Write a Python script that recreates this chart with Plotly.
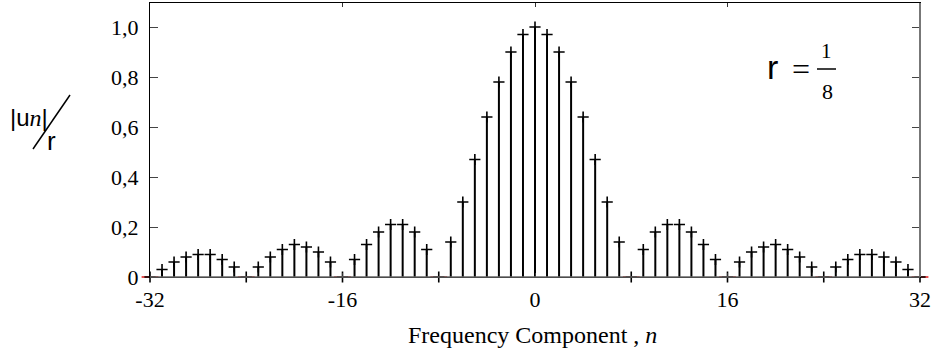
import plotly.graph_objects as go

n_vals = list(range(-32, 33))
magnitude = [0.00, 0.03, 0.06, 0.08, 0.09, 0.09, 0.07, 0.04,
             0.00, 0.04, 0.08, 0.11, 0.13, 0.12, 0.10, 0.06,
             0.00, 0.07, 0.13, 0.18, 0.21, 0.21, 0.18, 0.11,
             0.00, 0.14, 0.30, 0.47, 0.64, 0.78, 0.90, 0.97,
             1.00,
             0.97, 0.90, 0.78, 0.64, 0.47, 0.30, 0.14, 0.00,
             0.11, 0.18, 0.21, 0.21, 0.18, 0.13, 0.07, 0.00,
             0.06, 0.10, 0.12, 0.13, 0.11, 0.08, 0.04, 0.00,
             0.04, 0.07, 0.09, 0.09, 0.08, 0.06, 0.03, 0.00]
x_ticks = [-32, -16, 0, 16, 32]
x_tick_text = ["-32", "-16", "0", "16", "32"]
y_ticks = [0, 0.2, 0.4, 0.6, 0.8, 1.0]
y_tick_text = ["0", "0,2", "0,4", "0,6", "0,8", "1,0"]

SERIF = "Liberation Serif, Times New Roman, Times, serif"
SANS = "Liberation Sans, Arial, Helvetica, sans-serif"

# stems
sx, sy = [], []
for n, m in zip(n_vals, magnitude):
    sx += [n, n, None]
    sy += [0, m, None]

zx = [n for n, m in zip(n_vals, magnitude) if m == 0]
zy = [0 for n in zx]

fig = go.Figure()
fig.add_trace(go.Scatter(x=sx, y=sy, mode="lines",
                         line=dict(color="black", width=2), hoverinfo="skip",
                         showlegend=False, cliponaxis=False))
fig.add_trace(go.Scatter(x=zx, y=zy, mode="markers",
                         marker=dict(symbol="line-ew", size=12,
                                     line=dict(color="#e85050", width=2)),
                         showlegend=False, cliponaxis=False))
fig.add_trace(go.Scatter(x=n_vals, y=magnitude, mode="markers",
                         marker=dict(symbol="cross-thin", size=8,
                                     line=dict(color="black", width=1.6)),
                         showlegend=False, cliponaxis=False))

L, R, T, B = 150, 14, 3, 77
W, H = 934, 354
pw, ph = W - L - R, H - T - B


def px(xp):
    return (xp - L) / pw


def py(yp):
    return (H - B - yp) / ph


fig.update_layout(
    width=W, height=H,
    margin=dict(l=L, r=R, t=T, b=B),
    paper_bgcolor="white", plot_bgcolor="white",
    xaxis=dict(range=[-32, 32], tickvals=x_ticks, ticktext=x_tick_text,
               ticks="inside", ticklen=4, tickcolor="#333333",
               showline=True, mirror="ticks", linecolor="black", linewidth=1,
               showgrid=False, zeroline=False, ticklabelstandoff=3,
               tickfont=dict(family=SERIF, size=22, color="black")),
    yaxis=dict(range=[0, 1.096], tickvals=y_ticks, ticktext=y_tick_text,
               ticks="inside", ticklen=8, tickcolor="#444444",
               showline=True, mirror="ticks", linecolor="black", linewidth=1,
               showgrid=False, zeroline=False, ticklabelstandoff=6,
               tickfont=dict(family=SERIF, size=22, color="black")),
    shapes=[
        dict(type="line", xref="paper", yref="paper", x0=1, x1=1, y0=0, y1=1,
             line=dict(color="#777777", width=2)),
        dict(type="line", xref="paper", yref="paper", x0=0, x1=1, y0=0, y1=0,
             line=dict(color="#666666", width=1.5)),
        # slash of y label
        dict(type="line", xref="paper", yref="paper",
             x0=px(33), y0=py(149), x1=px(70), y1=py(95),
             line=dict(color="black", width=1.5)),
        # fraction bar
        dict(type="line", xref="paper", yref="paper",
             x0=px(817), y0=py(69), x1=px(836), y1=py(69),
             line=dict(color="black", width=1.5)),
    ],
    annotations=[
        dict(xref="paper", yref="paper", x=px(532), y=py(335),
             text="Frequency Component , <i>n</i>", showarrow=False,
             font=dict(family=SERIF, size=24, color="black"),
             xanchor="center", yanchor="middle"),
        dict(xref="paper", yref="paper", x=px(8), y=py(117),
             text="|u<span style='font-family:Liberation Serif,serif'><i>n</i></span>|",
             showarrow=False, font=dict(family=SANS, size=24, color="black"),
             xanchor="left", yanchor="middle"),
        dict(xref="paper", yref="paper", x=px(51), y=py(141),
             text="r", showarrow=False,
             font=dict(family=SANS, size=26, color="black"),
             xanchor="center", yanchor="middle"),
        dict(xref="paper", yref="paper", x=px(772), y=py(67),
             text="r", showarrow=False,
             font=dict(family=SANS, size=34, color="black"),
             xanchor="center", yanchor="middle"),
        dict(xref="paper", yref="paper", x=px(801), y=py(69),
             text="=", showarrow=False,
             font=dict(family=SERIF, size=32, color="black"),
             xanchor="center", yanchor="middle"),
        dict(xref="paper", yref="paper", x=px(826), y=py(51),
             text="1", showarrow=False,
             font=dict(family=SERIF, size=21, color="black"),
             xanchor="center", yanchor="middle"),
        dict(xref="paper", yref="paper", x=px(827), y=py(91),
             text="8", showarrow=False,
             font=dict(family=SERIF, size=22, color="black"),
             xanchor="center", yanchor="middle"),
    ],
)

fig.write_html("out.html")
